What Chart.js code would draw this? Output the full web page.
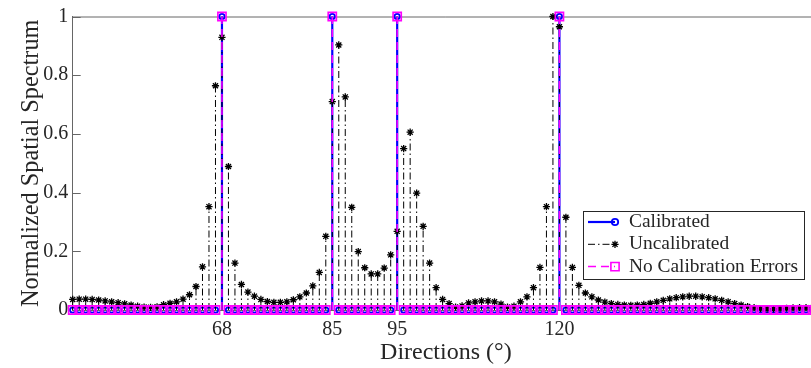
<!DOCTYPE html>
<html>
<head>
<meta charset="utf-8">
<script src="https://cdn.jsdelivr.net/npm/chart.js@4.4.1/dist/chart.umd.min.js"></script>
<style>
html, body { margin: 0; padding: 0; background: #fff; overflow: hidden; }
#wrap { position: relative; width: 830px; height: 368px; }
</style>
</head>
<body>
<div id="wrap"><canvas id="spectrum"></canvas></div>
<script>
// directions in degrees, one stem per degree
var directions = [
  45, 46, 47, 48, 49, 50, 51, 52, 53, 54,
  55, 56, 57, 58, 59, 60, 61, 62, 63, 64,
  65, 66, 67, 68, 69, 70, 71, 72, 73, 74,
  75, 76, 77, 78, 79, 80, 81, 82, 83, 84,
  85, 86, 87, 88, 89, 90, 91, 92, 93, 94,
  95, 96, 97, 98, 99, 100, 101, 102, 103, 104,
  105, 106, 107, 108, 109, 110, 111, 112, 113, 114,
  115, 116, 117, 118, 119, 120, 121, 122, 123, 124,
  125, 126, 127, 128, 129, 130, 131, 132, 133, 134,
  135, 136, 137, 138, 139, 140, 141, 142, 143, 144,
  145, 146, 147, 148, 149, 150, 151, 152, 153, 154,
  155, 156, 157, 158, 159, 160
];

var calibrated = [
  0, 0, 0, 0, 0, 0, 0, 0, 0, 0,
  0, 0, 0, 0, 0, 0, 0, 0, 0, 0,
  0, 0, 0, 1, 0, 0, 0, 0, 0, 0,
  0, 0, 0, 0, 0, 0, 0, 0, 0, 0,
  1, 0, 0, 0, 0, 0, 0, 0, 0, 0,
  1, 0, 0, 0, 0, 0, 0, 0, 0, 0,
  0, 0, 0, 0, 0, 0, 0, 0, 0, 0,
  0, 0, 0, 0, 0, 1, 0, 0, 0, 0,
  0, 0, 0, 0, 0, 0, 0, 0, 0, 0,
  0, 0, 0, 0, 0, 0, 0, 0, 0, 0,
  0, 0, 0, 0, 0, 0, 0, 0, 0, 0,
  0, 0, 0, 0, 0, 0
];

var uncalibrated = [
  0.036, 0.037, 0.037, 0.036, 0.034, 0.031, 0.028, 0.025, 0.021, 0.017,
  0.013, 0.010, 0.009, 0.011, 0.018, 0.023, 0.028, 0.037, 0.052, 0.080,
  0.147, 0.352, 0.764, 0.929, 0.489, 0.160, 0.087, 0.061, 0.047, 0.036,
  0.029, 0.026, 0.026, 0.028, 0.035, 0.045, 0.058, 0.082, 0.128, 0.251,
  0.710, 0.903, 0.726, 0.350, 0.199, 0.144, 0.123, 0.123, 0.143, 0.188,
  0.268, 0.550, 0.606, 0.398, 0.285, 0.160, 0.076, 0.036, 0.022, 0.010,
  0.014, 0.024, 0.028, 0.031, 0.031, 0.028, 0.020, 0.010, 0.013, 0.028,
  0.045, 0.076, 0.145, 0.352, 1.000, 0.965, 0.316, 0.145, 0.084, 0.058,
  0.045, 0.034, 0.027, 0.022, 0.019, 0.017, 0.016, 0.017, 0.019, 0.023,
  0.028, 0.033, 0.038, 0.042, 0.045, 0.047, 0.047, 0.045, 0.042, 0.038,
  0.033, 0.028, 0.022, 0.017, 0.012, 0.008, 0.005, 0.004, 0.004, 0.005,
  0.006, 0.007, 0.008, 0.008, 0.008, 0.008
];

var noCalErrors = [
  0, 0, 0, 0, 0, 0, 0, 0, 0, 0,
  0, 0, 0, 0, 0, 0, 0, 0, 0, 0,
  0, 0, 0, 1, 0, 0, 0, 0, 0, 0,
  0, 0, 0, 0, 0, 0, 0, 0, 0, 0,
  1, 0, 0, 0, 0, 0, 0, 0, 0, 0,
  1, 0, 0, 0, 0, 0, 0, 0, 0, 0,
  0, 0, 0, 0, 0, 0, 0, 0, 0, 0,
  0, 0, 0, 0, 0, 1, 0, 0, 0, 0,
  0, 0, 0, 0, 0, 0, 0, 0, 0, 0,
  0, 0, 0, 0, 0, 0, 0, 0, 0, 0,
  0, 0, 0, 0, 0, 0, 0, 0, 0, 0,
  0, 0, 0, 0, 0, 0
];

var xTicks = [68, 85, 95, 120];
var yTicks = [0, 0.2, 0.4, 0.6, 0.8, 1];
var yTickLabels = ['0', '0.2', '0.4', '0.6', '0.8', '1'];

var FONT = "'Liberation Serif', 'Times New Roman', serif";
var AXIS = '#262626';

var series = [
  { label: 'Calibrated', values: calibrated, color: '#0000ff', width: 2.2, dash: [],
    marker: 'circle', radius: 2.7, markerWidth: 1.8 },
  { label: 'Uncalibrated', values: uncalibrated, color: '#000000', width: 1, dash: [7, 3, 1.5, 3],
    marker: 'star', radius: 3.6, markerWidth: 1.3 },
  { label: 'No Calibration Errors', values: noCalErrors, color: '#ff00ff', width: 1.5, dash: [8, 5],
    marker: 'rect', radius: 5.8, markerWidth: 1.6 }
];

// each stem: baseline point, top point, then a gap
function stemPoints(values) {
  var pts = [];
  directions.forEach(function(d, i) {
    pts.push({x: d, y: 0}, {x: d, y: values[i]}, {x: d, y: null});
  });
  return pts;
}

var datasets = [];
series.forEach(function(s, k) {
  var base = (series.length - k) * 2;
  datasets.push({
    label: s.label,
    data: stemPoints(s.values),
    borderColor: s.color,
    borderWidth: s.width,
    borderDash: s.dash,
    borderCapStyle: 'butt',
    pointRadius: 0,
    pointHitRadius: 0,
    spanGaps: false,
    tension: 0,
    fill: false,
    clip: false,
    order: base
  });
  datasets.push({
    label: s.label + ' markers',
    data: directions.map(function(d, i) { return {x: d, y: s.values[i]}; }),
    showLine: false,
    pointStyle: s.marker,
    pointRadius: s.radius,
    pointHoverRadius: s.radius,
    pointBorderColor: s.color,
    pointBackgroundColor: 'rgba(0,0,0,0)',
    pointBorderWidth: s.markerWidth,
    clip: false,
    order: base - 1
  });
});

var boxTicks = {
  id: 'boxTicks',
  beforeDatasetsDraw: function(chart) {
    var ctx = chart.ctx, a = chart.chartArea;
    var xs = chart.scales.x, ys = chart.scales.y;
    ctx.save();
    ctx.strokeStyle = '#666';
    ctx.lineWidth = 1;
    ctx.beginPath();
    ctx.moveTo(a.left, a.top + 0.5);
    ctx.lineTo(a.right, a.top + 0.5);
    ctx.moveTo(a.left, a.bottom + 0.5);
    ctx.lineTo(a.right, a.bottom + 0.5);
    ctx.moveTo(a.right - 0.5, a.top);
    ctx.lineTo(a.right - 0.5, a.bottom);
    ys.ticks.forEach(function(t) {
      var y = Math.round(ys.getPixelForValue(t.value)) + 0.5;
      ctx.moveTo(a.left, y); ctx.lineTo(a.left + 8, y);
      ctx.moveTo(a.right, y); ctx.lineTo(a.right - 8, y);
    });
    xs.ticks.forEach(function(t) {
      var x = Math.round(xs.getPixelForValue(t.value)) + 0.5;
      ctx.moveTo(x, a.bottom); ctx.lineTo(x, a.bottom - 8);
      ctx.moveTo(x, a.top); ctx.lineTo(x, a.top + 8);
    });
    ctx.stroke();
    ctx.restore();
  }
};

var legendBox = {
  id: 'legendBox',
  afterDraw: function(chart) {
    var ctx = chart.ctx;
    var x0 = 583, y0 = 211, w = 221, h = 68;
    ctx.save();
    ctx.fillStyle = '#fff';
    ctx.fillRect(x0, y0, w, h);
    ctx.strokeStyle = AXIS;
    ctx.lineWidth = 1;
    ctx.strokeRect(x0 + 0.5, y0 + 0.5, w, h);
    series.forEach(function(s, i) {
      var y = y0 + 11 + i * 22.3;
      ctx.strokeStyle = s.color;
      ctx.lineWidth = s.width;
      ctx.setLineDash(s.dash);
      ctx.beginPath();
      ctx.moveTo(588, y);
      ctx.lineTo(615, y);
      ctx.stroke();
      ctx.setLineDash([]);
      ctx.fillStyle = 'rgba(0,0,0,0)';
      ctx.lineWidth = s.markerWidth;
      Chart.helpers.drawPoint(ctx, {pointStyle: s.marker, radius: s.marker === 'circle' ? 3.2 : s.radius, borderWidth: s.markerWidth, rotation: 0}, 615, y);
      ctx.fillStyle = AXIS;
      ctx.font = '19.4px ' + FONT;
      ctx.textBaseline = 'middle';
      ctx.textAlign = 'left';
      ctx.fillText(s.label, 629, y);
    });
    ctx.restore();
  }
};

new Chart(document.getElementById('spectrum'), {
  type: 'line',
  data: { datasets: datasets },
  options: {
    responsive: true,
    maintainAspectRatio: false,
    animation: false,
    events: [],
    layout: { padding: { top: 12, right: 11, left: 0, bottom: 0 } },
    plugins: { legend: { display: false }, tooltip: { enabled: false } },
    scales: {
      x: {
        type: 'linear',
        min: 45,
        max: 160,
        afterBuildTicks: function(s) { s.ticks = xTicks.map(function(v) { return {value: v}; }); },
        afterFit: function(s) { s.height = 58; },
        grid: { display: false, drawTicks: false },
        border: { display: false },
        ticks: { autoSkip: false, maxRotation: 0, padding: 8, color: AXIS, font: { family: FONT, size: 20 } },
        title: { display: true, text: 'Directions (°)', color: AXIS, font: { family: FONT, size: 24 }, padding: { top: 0, bottom: 1 } }
      },
      y: {
        min: 0,
        max: 1,
        afterBuildTicks: function(s) { s.ticks = yTicks.map(function(v) { return {value: v}; }); },
        afterFit: function(s) { s.width = 72.7; },
        grid: { display: false, drawTicks: false },
        border: { display: true, color: '#666', width: 1 },
        ticks: {
          padding: 4.5, color: AXIS, font: { family: FONT, size: 20 },
          callback: function(v, i) { return yTickLabels[i]; }
        },
        title: { display: true, text: 'Normalized Spatial Spectrum', color: AXIS, font: { family: FONT, size: 24.3 }, padding: { top: 17.5, bottom: 0 } }
      }
    }
  },
  plugins: [boxTicks, legendBox]
});
</script>
</body>
</html>
